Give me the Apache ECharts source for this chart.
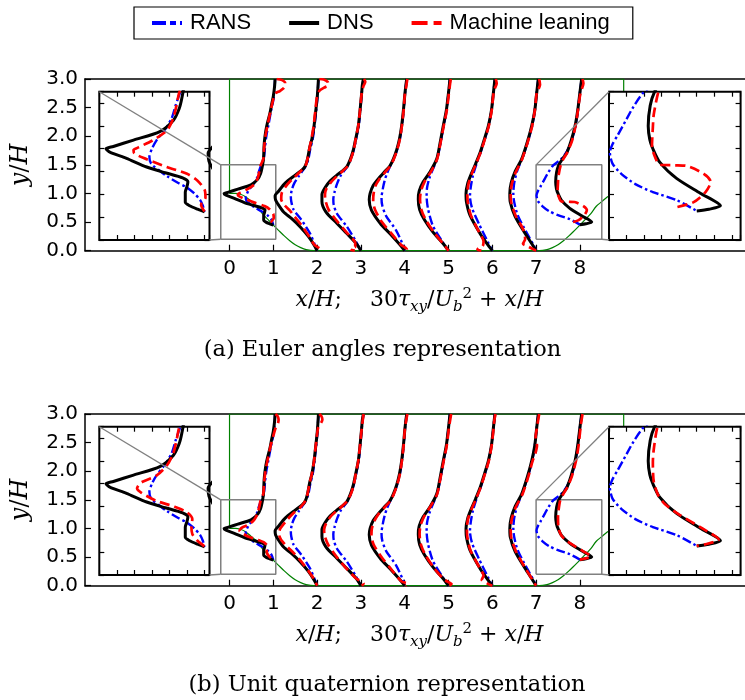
<!DOCTYPE html>
<html><head><meta charset="utf-8">
<script src="https://cdn.jsdelivr.net/npm/echarts@6/dist/echarts.min.js"></script>
<style>html,body{margin:0;padding:0;background:#fff}#c{width:745px;height:700px}</style>
</head><body><div id="c"></div><script>
// ---------------- data ----------------
const stations = [1, 2, 3, 4, 5, 6, 7, 8];          // x/H of each profile
const xTickValues = [0, 1, 2, 3, 4, 5, 6, 7, 8];
const legendNames = ['RANS', 'DNS', 'Machine leaning'];
const captions = ['(a) Euler angles representation', '(b) Unit quaternion representation'];

// each profile: [30*tau_xy/Ub^2, y/H]
const dnsProfiles = [
  [[0.04,3.0],[0.03,2.88],[0.0,2.7],[-0.04,2.55],[-0.075,2.41],[-0.15,2.18],[-0.19,2.0],[-0.21,1.85],[-0.225,1.6],[-0.26,1.44],[-0.29,1.35],[-0.355,1.25],[-0.51,1.15],[-0.81,1.076],[-1.04,1.02],[-1.124,1.0],[-1.08,0.97],[-0.89,0.916],[-0.66,0.84],[-0.45,0.79],[-0.25,0.745],[-0.19,0.71],[-0.2,0.67],[-0.22,0.62],[-0.22,0.53],[-0.17,0.5],[-0.08,0.47],[0,0.447]],
  [[0.03,3.0],[0.005,2.7],[-0.03,2.45],[-0.07,2.18],[-0.12,1.95],[-0.17,1.8],[-0.22,1.6],[-0.27,1.48],[-0.33,1.42],[-0.5,1.32],[-0.73,1.18],[-0.885,1.035],[-0.96,0.96],[-0.95,0.89],[-0.9,0.82],[-0.77,0.68],[-0.58,0.56],[-0.39,0.42],[-0.2,0.25],[-0.07,0.1],[0,0]],
  [[0.056,3.0],[0.03,2.88],[0.018,2.76],[-0.02,2.45],[-0.06,2.18],[-0.12,1.95],[-0.17,1.77],[-0.24,1.6],[-0.32,1.47],[-0.43,1.39],[-0.55,1.32],[-0.7,1.22],[-0.82,1.1],[-0.89,0.98],[-0.89,0.86],[-0.8,0.68],[-0.55,0.48],[-0.32,0.3],[-0.1,0.12],[0,0]],
  [[0.045,3.0],[0.007,2.76],[-0.03,2.45],[-0.07,2.18],[-0.12,1.95],[-0.18,1.77],[-0.26,1.6],[-0.34,1.48],[-0.46,1.38],[-0.6,1.26],[-0.72,1.14],[-0.79,1.0],[-0.81,0.89],[-0.76,0.71],[-0.56,0.48],[-0.34,0.3],[-0.07,0.07],[0,0]],
  [[0.034,3.0],[0.0,2.76],[-0.05,2.45],[-0.12,2.18],[-0.2,1.85],[-0.27,1.6],[-0.42,1.38],[-0.58,1.2],[-0.67,1.04],[-0.69,0.9],[-0.66,0.72],[-0.55,0.54],[-0.35,0.32],[-0.12,0.12],[0,0]],
  [[0.06,3.0],[0.025,2.76],[-0.02,2.45],[-0.09,2.18],[-0.18,1.95],[-0.28,1.71],[-0.38,1.52],[-0.47,1.36],[-0.56,1.18],[-0.6,1.0],[-0.59,0.85],[-0.51,0.62],[-0.28,0.3],[-0.1,0.1],[0,0]],
  [[0.05,3.0],[0.014,2.76],[-0.03,2.45],[-0.1,2.18],[-0.2,1.9],[-0.33,1.6],[-0.48,1.38],[-0.57,1.18],[-0.6,1.0],[-0.59,0.85],[-0.48,0.6],[-0.25,0.3],[-0.08,0.1],[0,0]],
  [[0.04,3.0],[0.0,2.76],[-0.05,2.45],[-0.11,2.18],[-0.2,1.92],[-0.3,1.71],[-0.4,1.6],[-0.48,1.5],[-0.53,1.38],[-0.553,1.2],[-0.535,1.08],[-0.5,1.0],[-0.42,0.88],[-0.23,0.74],[0.04,0.61],[0.27,0.5],[0.14,0.47],[0.0,0.455]]
];
const ransProfiles = [
  [[0.04,3.0],[0.03,2.85],[0.005,2.65],[-0.05,2.45],[-0.11,2.2],[-0.16,2.0],[-0.19,1.8],[-0.22,1.6],[-0.28,1.49],[-0.33,1.38],[-0.374,1.27],[-0.45,1.17],[-0.546,1.076],[-0.6,1.0],[-0.629,0.93],[-0.61,0.87],[-0.5,0.8],[-0.43,0.76],[-0.3,0.7],[-0.2,0.66],[-0.12,0.61],[-0.05,0.55],[-0.02,0.5],[0,0.447]],
  [[0.03,3.0],[0.01,2.7],[-0.02,2.45],[-0.06,2.18],[-0.1,1.95],[-0.15,1.8],[-0.2,1.6],[-0.26,1.48],[-0.33,1.4],[-0.42,1.3],[-0.52,1.18],[-0.58,1.06],[-0.6,0.95],[-0.59,0.86],[-0.54,0.72],[-0.36,0.54],[-0.16,0.3],[-0.05,0.1],[0,0]],
  [[0.056,3.0],[0.02,2.76],[-0.015,2.45],[-0.05,2.18],[-0.11,1.95],[-0.16,1.77],[-0.23,1.6],[-0.3,1.48],[-0.38,1.4],[-0.47,1.3],[-0.55,1.16],[-0.6,1.03],[-0.63,0.9],[-0.62,0.8],[-0.55,0.65],[-0.32,0.42],[-0.12,0.17],[0,0]],
  [[0.045,3.0],[0.01,2.76],[-0.025,2.45],[-0.065,2.18],[-0.11,1.95],[-0.17,1.77],[-0.25,1.6],[-0.33,1.48],[-0.4,1.36],[-0.46,1.22],[-0.5,1.08],[-0.53,0.92],[-0.51,0.78],[-0.42,0.6],[-0.2,0.36],[-0.05,0.12],[0,0]],
  [[0.034,3.0],[0.0,2.76],[-0.045,2.45],[-0.11,2.18],[-0.19,1.85],[-0.26,1.6],[-0.36,1.42],[-0.44,1.26],[-0.49,1.1],[-0.5,0.95],[-0.47,0.74],[-0.36,0.44],[-0.16,0.18],[0,0]],
  [[0.06,3.0],[0.025,2.76],[-0.02,2.45],[-0.085,2.18],[-0.17,1.95],[-0.27,1.71],[-0.36,1.52],[-0.44,1.32],[-0.49,1.12],[-0.51,0.95],[-0.46,0.74],[-0.3,0.46],[-0.1,0.15],[0,0]],
  [[0.05,3.0],[0.014,2.76],[-0.03,2.45],[-0.09,2.18],[-0.19,1.9],[-0.31,1.62],[-0.43,1.4],[-0.5,1.18],[-0.52,1.0],[-0.5,0.85],[-0.42,0.62],[-0.22,0.32],[-0.06,0.1],[0,0]],
  [[0.04,3.0],[0.0,2.76],[-0.045,2.45],[-0.1,2.18],[-0.19,1.92],[-0.3,1.73],[-0.43,1.6],[-0.61,1.49],[-0.72,1.37],[-0.8,1.26],[-0.9,1.12],[-0.96,1.04],[-0.99,0.97],[-0.96,0.87],[-0.86,0.78],[-0.7,0.69],[-0.5,0.62],[-0.23,0.55],[0,0.455]]
];
const mlEulerProfiles = [
  [[0.077,3.0],[0.2,2.98],[0.27,2.93],[0.25,2.85],[0.15,2.79],[0.05,2.75],[0.0,2.65],[-0.06,2.45],[-0.13,2.2],[-0.18,2.0],[-0.21,1.8],[-0.23,1.6],[-0.29,1.49],[-0.32,1.38],[-0.36,1.26],[-0.43,1.16],[-0.6,1.07],[-0.76,1.01],[-0.81,0.99],[-0.8,0.96],[-0.7,0.92],[-0.43,0.84],[-0.2,0.78],[-0.08,0.72],[0.0,0.64],[0.01,0.57],[-0.04,0.51],[0,0.45]],
  [[0.05,3.0],[0.15,2.99],[0.24,2.95],[0.26,2.89],[0.16,2.85],[0.06,2.8],[0.0,2.7],[-0.04,2.45],[-0.08,2.18],[-0.13,1.95],[-0.18,1.77],[-0.22,1.6],[-0.27,1.48],[-0.4,1.37],[-0.58,1.24],[-0.72,1.12],[-0.81,1.0],[-0.82,0.9],[-0.75,0.8],[-0.62,0.7],[-0.52,0.6],[-0.36,0.45],[-0.2,0.27],[-0.06,0.1],[0.04,0.05],[0.08,0.02],[0.05,0.0]],
  [[0.07,3.0],[0.1,2.95],[0.06,2.88],[0.02,2.76],[-0.02,2.45],[-0.06,2.18],[-0.12,1.95],[-0.16,1.77],[-0.23,1.6],[-0.3,1.48],[-0.42,1.39],[-0.55,1.3],[-0.68,1.2],[-0.79,1.08],[-0.82,0.98],[-0.81,0.88],[-0.74,0.72],[-0.55,0.52],[-0.33,0.32],[-0.13,0.13],[-0.13,0.07],[-0.2,0.04],[-0.24,0.02],[-0.14,0.0]],
  [[0.06,3.0],[0.03,2.85],[0.007,2.76],[-0.025,2.45],[-0.065,2.18],[-0.11,1.95],[-0.17,1.77],[-0.25,1.6],[-0.33,1.48],[-0.45,1.37],[-0.58,1.25],[-0.67,1.13],[-0.71,1.0],[-0.72,0.88],[-0.68,0.72],[-0.52,0.5],[-0.3,0.3],[-0.08,0.1],[0.02,0.05],[0.05,0.02],[0.0,0.0]],
  [[0.05,3.0],[0.01,2.76],[-0.04,2.45],[-0.11,2.18],[-0.19,1.85],[-0.26,1.6],[-0.4,1.38],[-0.55,1.2],[-0.63,1.04],[-0.65,0.9],[-0.62,0.72],[-0.52,0.54],[-0.33,0.32],[-0.12,0.12],[0,0]],
  [[0.08,3.0],[0.1,2.92],[0.06,2.84],[0.03,2.76],[-0.015,2.45],[-0.08,2.18],[-0.17,1.95],[-0.27,1.71],[-0.37,1.52],[-0.46,1.36],[-0.54,1.18],[-0.57,1.0],[-0.56,0.85],[-0.49,0.62],[-0.3,0.32],[-0.2,0.16],[-0.22,0.08],[-0.3,0.05],[-0.34,0.02],[-0.25,0.0]],
  [[0.07,3.0],[0.09,2.9],[0.04,2.8],[0.014,2.76],[-0.03,2.45],[-0.09,2.18],[-0.19,1.9],[-0.32,1.6],[-0.46,1.38],[-0.55,1.18],[-0.58,1.0],[-0.57,0.85],[-0.46,0.6],[-0.3,0.38],[-0.25,0.2],[-0.3,0.12],[-0.2,0.08],[0,0]],
  [[0.06,3.0],[0.08,2.92],[0.03,2.8],[0.0,2.7],[-0.045,2.45],[-0.1,2.18],[-0.18,1.92],[-0.28,1.73],[-0.38,1.6],[-0.44,1.49],[-0.49,1.3],[-0.5,1.19],[-0.51,1.02],[-0.46,0.9],[-0.42,0.86],[-0.25,0.855],[-0.12,0.85],[0.08,0.78],[0.16,0.71],[0.1,0.62],[-0.04,0.53],[-0.27,0.48]]
];
const mlQuatProfiles = [
  [[0.05,3.0],[0.1,2.96],[0.12,2.9],[0.1,2.82],[0.05,2.75],[0.0,2.62],[-0.06,2.45],[-0.13,2.2],[-0.18,2.0],[-0.21,1.8],[-0.23,1.6],[-0.29,1.49],[-0.32,1.38],[-0.36,1.26],[-0.43,1.16],[-0.55,1.07],[-0.7,1.02],[-0.74,1.0],[-0.77,0.96],[-0.72,0.92],[-0.55,0.85],[-0.35,0.8],[-0.2,0.75],[-0.14,0.69],[-0.15,0.62],[-0.14,0.56],[-0.08,0.5],[0,0.45]],
  [[0.05,3.0],[0.1,2.96],[0.12,2.9],[0.08,2.83],[0.02,2.75],[-0.03,2.45],[-0.07,2.18],[-0.12,1.95],[-0.17,1.8],[-0.22,1.6],[-0.27,1.48],[-0.37,1.38],[-0.55,1.26],[-0.72,1.12],[-0.84,1.0],[-0.87,0.9],[-0.82,0.8],[-0.68,0.68],[-0.52,0.56],[-0.36,0.42],[-0.19,0.25],[-0.06,0.1],[0,0]],
  [[0.06,3.0],[0.04,2.88],[0.02,2.76],[-0.02,2.45],[-0.06,2.18],[-0.12,1.95],[-0.16,1.77],[-0.23,1.6],[-0.31,1.48],[-0.43,1.39],[-0.57,1.3],[-0.7,1.2],[-0.8,1.08],[-0.84,0.98],[-0.83,0.88],[-0.75,0.72],[-0.55,0.5],[-0.33,0.3],[-0.1,0.12],[0.03,0.07],[0.06,0.04],[0.02,0.0]],
  [[0.06,3.0],[0.007,2.76],[-0.025,2.45],[-0.065,2.18],[-0.11,1.95],[-0.17,1.77],[-0.25,1.6],[-0.33,1.48],[-0.46,1.37],[-0.6,1.25],[-0.7,1.12],[-0.75,1.0],[-0.76,0.88],[-0.71,0.72],[-0.53,0.5],[-0.32,0.3],[-0.08,0.08],[0.05,0.04],[0.08,0.02],[0.02,0.0]],
  [[0.06,3.0],[0.01,2.76],[-0.04,2.45],[-0.11,2.18],[-0.19,1.85],[-0.26,1.6],[-0.4,1.4],[-0.55,1.22],[-0.64,1.05],[-0.66,0.9],[-0.63,0.72],[-0.53,0.54],[-0.34,0.32],[-0.12,0.12],[0.03,0.05],[0.07,0.03],[0.02,0]],
  [[0.07,3.0],[0.04,2.85],[0.03,2.76],[-0.015,2.45],[-0.08,2.18],[-0.17,1.95],[-0.27,1.71],[-0.37,1.52],[-0.46,1.36],[-0.55,1.18],[-0.58,1.0],[-0.57,0.85],[-0.5,0.62],[-0.29,0.31],[-0.2,0.18],[-0.24,0.1],[-0.12,0.04],[0,0]],
  [[0.07,3.0],[0.04,2.86],[0.02,2.76],[-0.01,2.6],[0.02,2.45],[-0.02,2.3],[-0.08,2.18],[-0.18,1.9],[-0.31,1.6],[-0.46,1.38],[-0.55,1.18],[-0.58,1.0],[-0.57,0.85],[-0.46,0.6],[-0.24,0.3],[-0.08,0.1],[0,0]],
  [[0.06,3.0],[0.02,2.8],[-0.03,2.45],[-0.09,2.18],[-0.18,1.92],[-0.28,1.73],[-0.38,1.6],[-0.45,1.49],[-0.49,1.3],[-0.5,1.19],[-0.49,1.02],[-0.44,0.9],[-0.36,0.82],[-0.2,0.73],[0.06,0.61],[0.25,0.51],[0.1,0.47],[0.0,0.455]]
];
// hill geometry (y/H of the lower wall) and the green domain frame
const hillX = [0, 0.125, 0.25, 0.375, 0.5, 0.625, 0.75, 0.875, 1.0, 1.125, 1.25, 1.375, 1.5, 1.625, 1.75, 1.93, 7.07, 7.25, 7.375, 7.5, 7.625, 7.75, 7.875, 8.0, 8.125, 8.25, 8.375, 8.5, 8.625, 8.75, 8.875, 9.0];
const hillY = [1.0, 1.0, 0.986, 0.939, 0.857, 0.777, 0.648, 0.546, 0.448, 0.352, 0.259, 0.175, 0.105, 0.053, 0.018, 0, 0, 0.018, 0.053, 0.105, 0.175, 0.259, 0.352, 0.448, 0.546, 0.648, 0.777, 0.857, 0.939, 0.986, 1.0, 1.0];
const frameX = [9, 9, 0, 0];
const frameY = [1, 3, 3, 1];
// zoomed regions of the insets: [xmin, xmax], [ymin, ymax]
const insetLeftX = [-0.2, 1.056];
const insetRightX = [7.0, 8.5];
const insetY = [0.2, 1.5];

// ---------------- layout ----------------
const MAIN = { left: 85, width: 660, height: 171.7, xmin: -3.3, xmax: 11.77, ymin: 0, ymax: 3 };
const PANEL_TOPS = [79, 414];
const INSETS = [
  { left: 99.3, dTop: 12.7, width: 110.2, height: 148.3, xr: insetLeftX, yr: insetY, side: 'left' },
  { left: 609, dTop: 12.7, width: 131.6, height: 148.3, xr: insetRightX, yr: insetY, side: 'right' }
];
const STYLE = {
  'RANS': { color: '#0000ff', width: 2.4, type: [9, 3, 2.5, 3] },
  'DNS': { color: '#000000', width: 3, type: 'solid' },
  'Machine leaning': { color: '#ff0000', width: 2.7, type: [10, 5] }
};
const mlSets = [mlEulerProfiles, mlQuatProfiles];

const grids = [], xAxes = [], yAxes = [], series = [], graphics = [];

function addCurves(xi, yi, p, zBase) {
  const sets = [['RANS', ransProfiles], ['DNS', dnsProfiles], ['Machine leaning', mlSets[p]]];
  sets.forEach(([name, profs], k) => {
    stations.forEach((s, i) => {
      const st = STYLE[name];
      series.push({
        type: 'line', name, xAxisIndex: xi, yAxisIndex: yi,
        data: profs[i].map(d => [s + d[0], d[1]]),
        showSymbol: false, symbol: 'none', smooth: 0.25, clip: true, silent: true,
        lineStyle: { color: st.color, width: st.width, type: st.type, cap: 'butt', join: 'round' },
        itemStyle: { color: st.color },
        z: zBase + k
      });
    });
  });
}

const mathRich = {
  i: { fontFamily: 'DejaVu Serif', fontStyle: 'italic', fontSize: 22, lineHeight: 28, color: '#000' },
  n: { fontFamily: 'DejaVu Serif', fontSize: 22, lineHeight: 28, color: '#000' },
  sub: { fontFamily: 'DejaVu Serif', fontStyle: 'italic', fontSize: 15, lineHeight: 15, verticalAlign: 'bottom', color: '#000' },
  sup: { fontFamily: 'DejaVu Serif', fontSize: 15, lineHeight: 15, verticalAlign: 'top', color: '#000' },
  iy: { fontFamily: 'DejaVu Serif', fontStyle: 'italic', fontSize: 24, color: '#000' },
  ny: { fontFamily: 'DejaVu Serif', fontSize: 24, color: '#000' }
};

const ux = MAIN.width / (MAIN.xmax - MAIN.xmin);
const uy = MAIN.height / (MAIN.ymax - MAIN.ymin);
const tickStyle = { color: '#000', width: 1.2 };
const spine = { show: true, onZero: false, lineStyle: { color: '#000', width: 1.5 } };

PANEL_TOPS.forEach((top, p) => {
  const gMain = grids.length;
  grids.push({ left: MAIN.left, top, width: MAIN.width, height: MAIN.height, show: false, z: 0 });
  const xMain = xAxes.length;
  xAxes.push({ gridIndex: gMain, type: 'value', position: 'bottom', min: MAIN.xmin, max: MAIN.xmax,
    axisLine: spine, splitLine: { show: false },
    axisTick: { show: true, inside: true, length: 6, customValues: xTickValues, lineStyle: tickStyle },
    axisLabel: { show: true, customValues: xTickValues, fontFamily: 'DejaVu Sans', fontSize: 20, color: '#000', margin: 8 },
    name: '{i|x}{n|/}{i|H}{n|;    30}{i|τ}{sub|xy}{n|/}{i|U}{sub|b}{sup|2}{n| + }{i|x}{n|/}{i|H}',
    nameLocation: 'middle', nameGap: 36,
    nameTextStyle: { rich: mathRich, padding: [0, 0, 0, 9] } });
  xAxes.push({ gridIndex: gMain, type: 'value', position: 'top', min: MAIN.xmin, max: MAIN.xmax,
    axisLine: spine, splitLine: { show: false }, axisTick: { show: false }, axisLabel: { show: false } });
  const yMain = yAxes.length;
  yAxes.push({ gridIndex: gMain, type: 'value', position: 'left', min: MAIN.ymin, max: MAIN.ymax, interval: 0.5,
    axisLine: spine, splitLine: { show: false },
    axisTick: { show: true, inside: true, length: 6, lineStyle: tickStyle },
    axisLabel: { fontFamily: 'DejaVu Sans', fontSize: 20, color: '#000', margin: 7, formatter: v => v.toFixed(1) },
    name: '{iy|y}{ny|/}{iy|H}', nameLocation: 'middle', nameRotate: 90, nameGap: 52,
    nameTextStyle: { rich: mathRich } });

  addCurves(xMain, yMain, p, 3);
  series.push({ type: 'line', xAxisIndex: xMain, yAxisIndex: yMain, silent: true,
    data: hillX.map((x, i) => [x, hillY[i]]), showSymbol: false, symbol: 'none', smooth: 0.3,
    lineStyle: { color: '#008000', width: 1.2 }, z: 2 });
  series.push({ type: 'line', xAxisIndex: xMain, yAxisIndex: yMain, silent: true,
    data: frameX.map((x, i) => [x, frameY[i]]), showSymbol: false, symbol: 'none',
    lineStyle: { color: '#008000', width: 1.2 }, z: 2 });

  const px = x => MAIN.left + (x - MAIN.xmin) * ux;
  const py = y => top + (MAIN.ymax - y) * uy;

  INSETS.forEach(ins => {
    const g = grids.length;
    const itop = top + ins.dTop;
    grids.push({ left: ins.left, top: itop, width: ins.width, height: ins.height, show: true,
      backgroundColor: '#fff', borderColor: '#000', borderWidth: 2, z: 10 });
    const xb = xAxes.length;
    ['bottom', 'top'].forEach(pos => xAxes.push({ gridIndex: g, type: 'value', position: pos,
      min: ins.xr[0], max: ins.xr[1], interval: 0.2, z: 11,
      axisLine: { show: false, onZero: false }, axisLabel: { show: false }, splitLine: { show: false },
      axisTick: { show: true, inside: true, length: 5, lineStyle: tickStyle } }));
    const yl = yAxes.length;
    ['left', 'right'].forEach(pos => yAxes.push({ gridIndex: g, type: 'value', position: pos,
      min: ins.yr[0], max: ins.yr[1], interval: 0.2, z: 11,
      axisLine: { show: false, onZero: false }, axisLabel: { show: false }, splitLine: { show: false },
      axisTick: { show: true, inside: true, length: 5, lineStyle: tickStyle } }));
    addCurves(xb, yl, p, 12);

    // zoom box drawn in the main axes
    const [x0, x1] = ins.xr, [y0, y1] = ins.yr;
    series.push({ type: 'line', xAxisIndex: xMain, yAxisIndex: yMain, silent: true,
      data: [[x0, y0], [x1, y0], [x1, y1], [x0, y1], [x0, y0]], showSymbol: false, symbol: 'none',
      lineStyle: { color: '#808080', width: 1.5 }, z: 2 });
    // connector lines
    const gray = { stroke: '#808080', lineWidth: 1.3 };
    if (ins.side === 'left') {
      graphics.push({ type: 'line', z: 30, silent: true, shape: { x1: ins.left, y1: itop, x2: px(x0), y2: py(y1) }, style: gray });
      graphics.push({ type: 'line', z: 30, silent: true, shape: { x1: ins.left + ins.width, y1: itop + ins.height, x2: px(x0), y2: py(y0) }, style: gray });
    } else {
      graphics.push({ type: 'line', z: 30, silent: true, shape: { x1: ins.left, y1: itop, x2: px(x0), y2: py(y1) }, style: gray });
      graphics.push({ type: 'line', z: 30, silent: true, shape: { x1: px(x1), y1: py(y0), x2: ins.left, y2: itop + ins.height }, style: gray });
    }
  });
});

const chart = echarts.init(document.getElementById('c'), null, { renderer: 'canvas' });
const hiddenSymbol = { opacity: 0, color: 'transparent', borderWidth: 0 };
chart.setOption({
  animation: false,
  backgroundColor: '#fff',
  title: [
    { text: captions[0], left: 382.5, top: 339, textAlign: 'center', padding: 0,
      textStyle: { fontFamily: 'DejaVu Serif', fontSize: 22.5, fontWeight: 'normal', color: '#000' } },
    { text: captions[1], left: 387, top: 674, textAlign: 'center', padding: 0,
      textStyle: { fontFamily: 'DejaVu Serif', fontSize: 22.5, fontWeight: 'normal', color: '#000' } }
  ],
  legend: {
    left: 134, top: 7, orient: 'horizontal', padding: [5, 23, 5, 16], itemGap: 36,
    itemWidth: 30, itemHeight: 12, borderColor: '#000', borderWidth: 1.2, borderRadius: 0,
    backgroundColor: '#fff', selectedMode: false, itemStyle: hiddenSymbol,
    textStyle: { fontFamily: 'Liberation Sans', fontSize: 22, color: '#000', padding: [0, 0, 0, 3] },
    data: [
      { name: legendNames[0], itemStyle: hiddenSymbol, lineStyle: { width: 4, type: [14, 4, 6, 4] } },
      { name: legendNames[1], itemStyle: hiddenSymbol, lineStyle: { width: 4 } },
      { name: legendNames[2], itemStyle: hiddenSymbol, lineStyle: { width: 4, type: [16, 6] } }
    ]
  },
  grid: grids, xAxis: xAxes, yAxis: yAxes, series, graphic: graphics
});
</script></body></html>
